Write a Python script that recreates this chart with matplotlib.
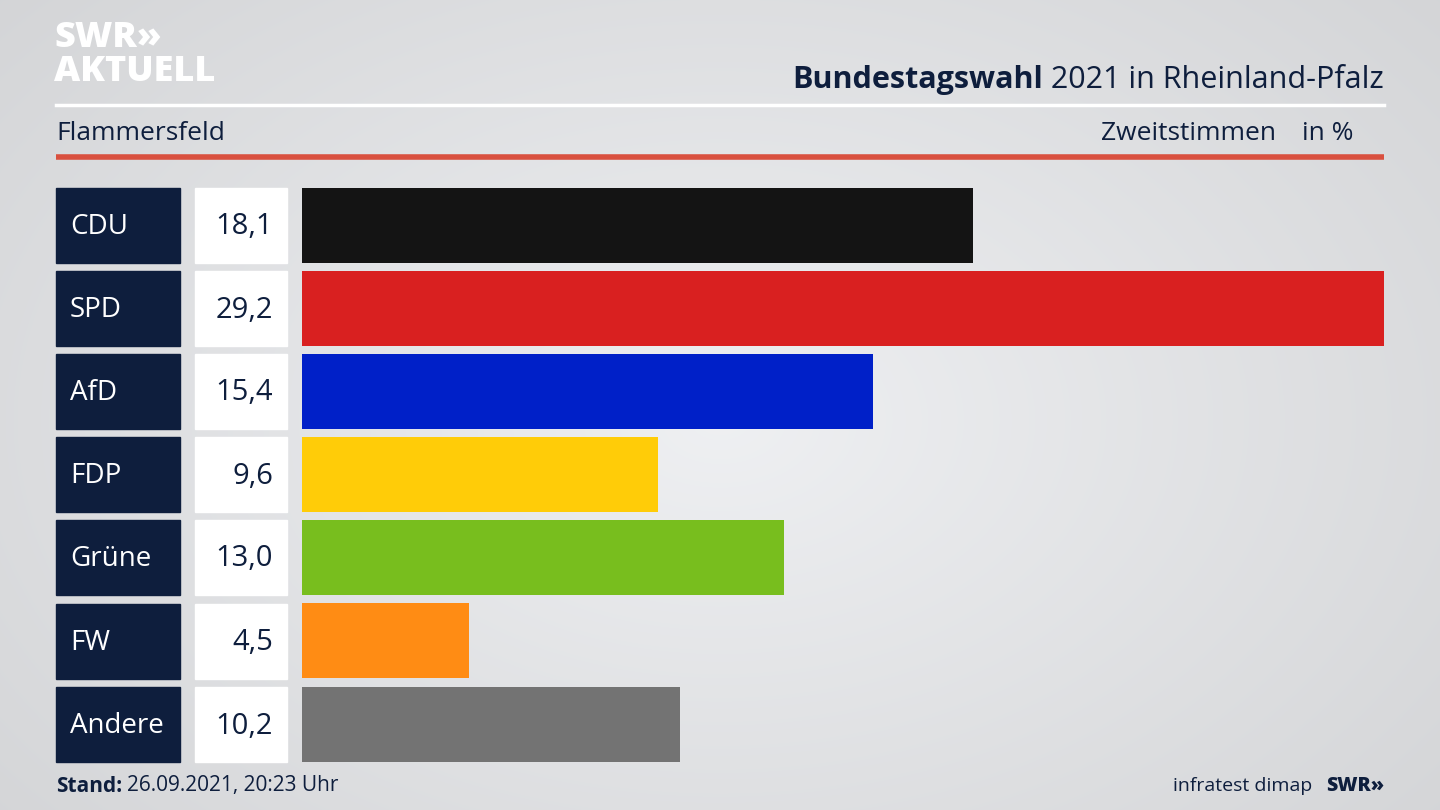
import numpy as np
import matplotlib
matplotlib.use("Agg")
import matplotlib.pyplot as plt
from matplotlib.patches import Rectangle

parties = ["CDU", "SPD", "AfD", "FDP", "Grüne", "FW", "Andere"]
values = [18.1, 29.2, 15.4, 9.6, 13.0, 4.5, 10.2]
value_labels = ["18,1", "29,2", "15,4", "9,6", "13,0", "4,5", "10,2"]
colors = ["#141414", "#d92020", "#0020c8", "#ffcc08", "#78be1e", "#ff8c14", "#737373"]

W, H = 1440, 810
NAVY = "#0e1e3d"
FONT = "Open Sans"
plt.rcParams["font.family"] = FONT

fig = plt.figure(figsize=(14.4, 8.1), dpi=100)
bg = fig.add_axes([0, 0, 1, 1])
bg.set_xlim(0, W); bg.set_ylim(H, 0); bg.axis("off")
yy, xx = np.mgrid[0:H, 0:W]
d = np.sqrt(((xx - 720) / 900) ** 2 + ((yy - 420) / 600) ** 2)
g = np.clip(0.95 - 0.10 * d, 0, 1)
img = np.dstack([g * 0.985, g * 0.99, g * 1.0])
bg.imshow(img, extent=[0, W, H, 0], aspect="auto", zorder=0)

# logo
bg.text(54, 38, "SWR»", color="white", fontsize=26, fontweight="heavy", va="center", ha="left")
bg.text(54, 72, "AKTUELL", color="white", fontsize=26, fontweight="heavy", va="center", ha="left")

# title
t2 = bg.text(1384, 80, " 2021 in Rheinland-Pfalz", color=NAVY, fontsize=22, va="center", ha="right")
fig.canvas.draw()
x_left = t2.get_window_extent().x0
bg.text(x_left, 80, "Bundestagswahl", color=NAVY, fontsize=22, fontweight="bold", va="center", ha="right")

bg.plot([56, 1384], [105, 105], color="white", lw=2.5)
bg.text(56, 134, "Flammersfeld", color=NAVY, fontsize=19, va="center", ha="left")
bg.text(1276, 134, "Zweitstimmen", color=NAVY, fontsize=19, va="center", ha="right")
bg.text(1354, 134, "in %", color=NAVY, fontsize=19, va="center", ha="right")
bg.plot([56, 1384], [157, 157], color="#d9503f", lw=4, solid_capstyle="butt")

centers = [225, 308, 391, 474, 557, 641, 724]
bh = 75
for p, vl, cy in zip(parties, value_labels, centers):
    bg.add_patch(Rectangle((56, cy - bh / 2), 124, bh, color=NAVY, zorder=2))
    bg.add_patch(Rectangle((195, cy - bh / 2), 92, bh, color="white", zorder=2))
    bg.text(70, cy + 2, p, color="white", fontsize=20, va="center", ha="left", zorder=3)
    bg.text(273, cy + 2, vl, color=NAVY, fontsize=21, va="center", ha="right", zorder=3)

# bars axes
top = centers[0] - bh / 2
bottom = centers[-1] + bh / 2
ax = fig.add_axes([302 / W, 1 - bottom / H, (1384 - 302) / W, (bottom - top) / H])
ax.set_xlim(0, max(values))
ypos = np.arange(len(values))
ax.set_ylim((bottom - centers[0]) / 83.17, -(centers[0] - top) / 83.17)
ax.barh(ypos, values, height=bh / 83.17, color=colors)
ax.axis("off")
ax.patch.set_alpha(0)

bg.text(56, 786, "Stand:", color=NAVY, fontsize=15, fontweight="bold", va="center", ha="left")
bg.text(127, 786, "26.09.2021, 20:23 Uhr", color=NAVY, fontsize=15, va="center", ha="left")
bg.text(1312, 786, "infratest dimap", color=NAVY, fontsize=14, va="center", ha="right")
bg.text(1384, 786, "SWR»", color=NAVY, fontsize=14, fontweight="heavy", va="center", ha="right")

fig.savefig("out.png", dpi=100)
